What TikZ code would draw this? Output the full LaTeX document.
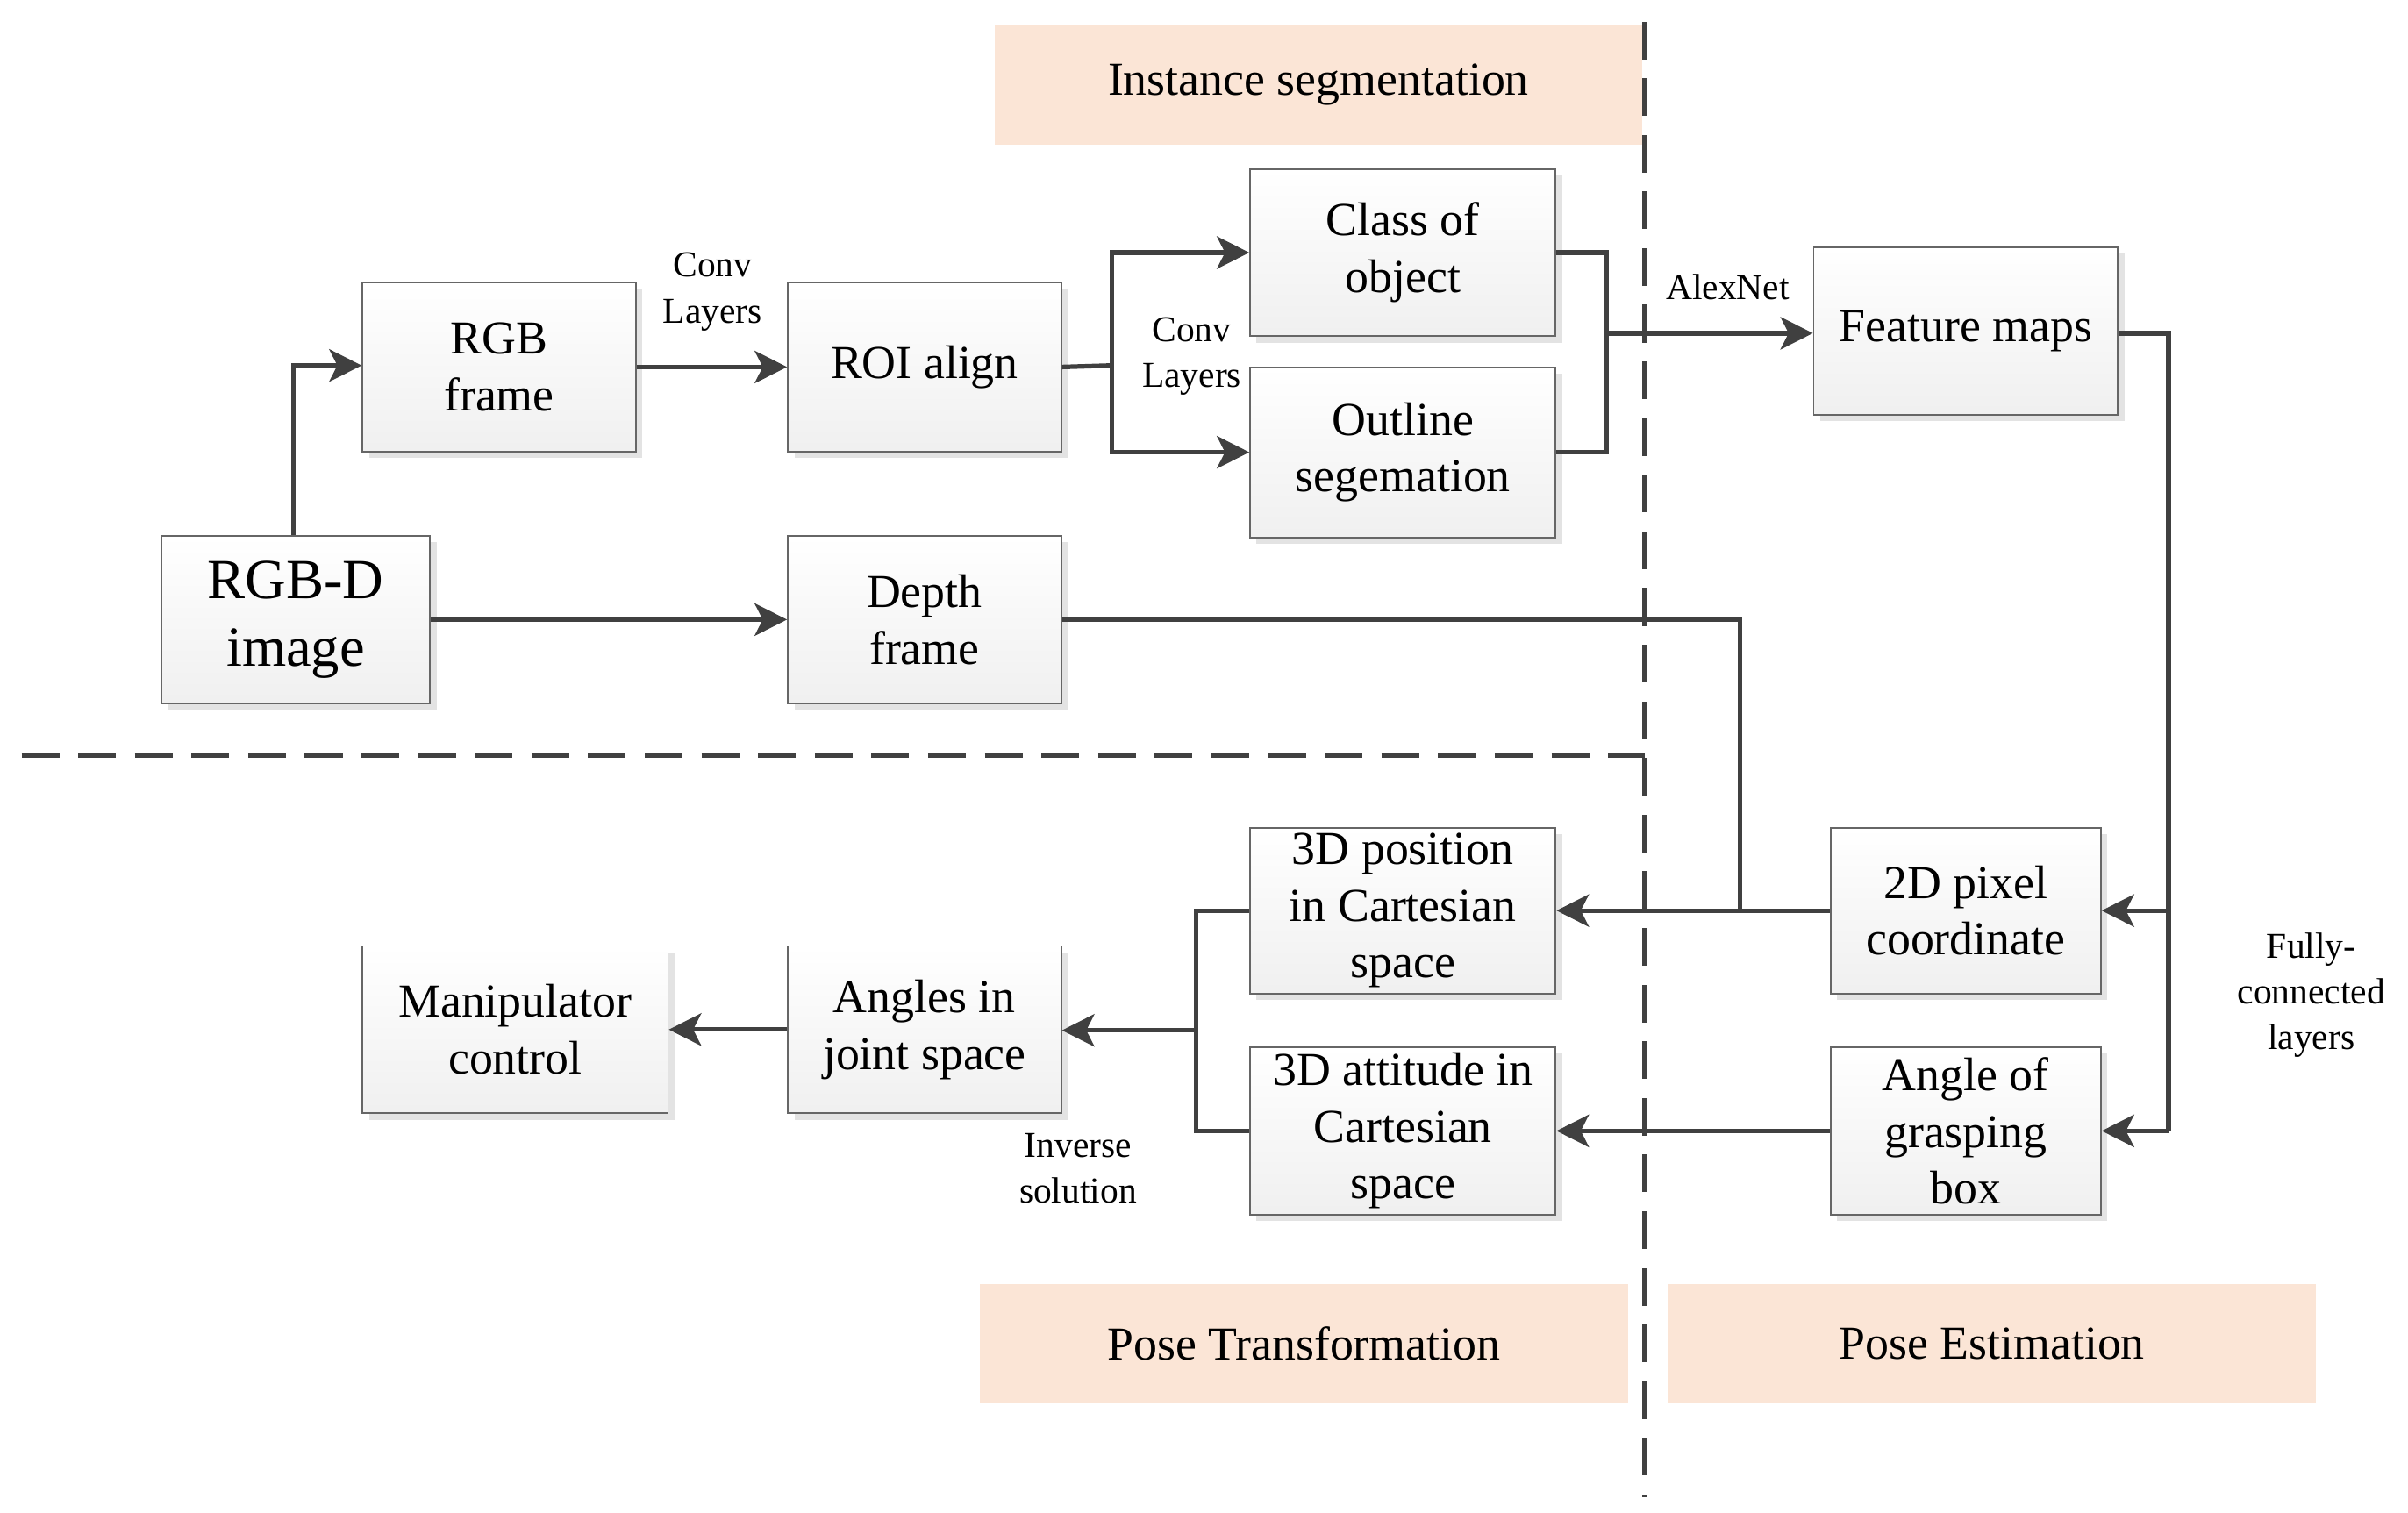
\documentclass[tikz,border=0pt]{standalone}
\usepackage{fontspec}
\setmainfont{Liberation Serif}
\usetikzlibrary{arrows.meta,shadows}
\definecolor{ln}{HTML}{404040}
\definecolor{peach}{HTML}{FBE5D6}
\begin{document}
\begin{tikzpicture}[x=0.02cm,y=-0.02cm,
  box/.style={draw=gray!80!black,line width=0.6pt,top color=white,bottom color=gray!12,
    drop shadow={shadow xshift=2.4pt,shadow yshift=-2.4pt,fill=gray!22,opacity=1},
    align=center,font=\fontsize{17.5}{21}\selectfont,inner sep=2pt},
  tag/.style={fill=peach,minimum width=8.44cm,minimum height=1.56cm,font=\fontsize{17.5}{21}\selectfont},
  lbl/.style={align=center,font=\fontsize{13.5}{17}\selectfont},
  con/.style={draw=ln,line width=1.7pt},
  arr/.style={con,-{Stealth[length=12pt,width=12pt,inset=3pt]}},
  sepline/.style={draw=ln,line width=1.7pt,dash pattern=on 14pt off 7pt}]
\useasboundingbox (0,0) rectangle (1568,985);
% tags
\node[tag] (tis) at (858.5,55) {Instance segmentation};
\node[tag] (tpt) at (849,875) {Pose Transformation};
\node[tag] (tpe) at (1297,875) {Pose Estimation};
% boxes
\node[box,minimum width=3.5cm,minimum height=2.18cm,font=\fontsize{21}{25}\selectfont] (rgbd) at (192.5,403.5) {RGB-D\\image};
\node[box,minimum width=3.56cm,minimum height=2.2cm] (rgb) at (325,239) {RGB\\frame};
\node[box,minimum width=3.56cm,minimum height=2.2cm] (roi) at (602,239) {ROI align};
\node[box,minimum width=3.56cm,minimum height=2.18cm] (dep) at (602,403.5) {Depth\\frame};
\node[box,minimum width=3.98cm,minimum height=2.18cm] (cls) at (913.5,164.5) {Class of\\object};
\node[box,minimum width=3.98cm,minimum height=2.22cm] (out) at (913.5,294.5) {Outline\\segemation};
\node[box,minimum width=3.96cm,minimum height=2.18cm] (fm) at (1280,215.5) {Feature maps};
\node[box,minimum width=3.52cm,minimum height=2.16cm] (pix) at (1280,593) {2D pixel\\coordinate};
\node[box,minimum width=3.52cm,minimum height=2.18cm] (ang) at (1280,736.5) {Angle of\\grasping\\box};
\node[box,minimum width=3.98cm,minimum height=2.16cm] (pos) at (913.5,593) {3D position\\in Cartesian\\space};
\node[box,minimum width=3.98cm,minimum height=2.18cm] (att) at (913.5,736.5) {3D attitude in\\Cartesian\\space};
\node[box,minimum width=3.56cm,minimum height=2.18cm] (jnt) at (602,670.5) {Angles in\\joint space};
\node[box,minimum width=3.98cm,minimum height=2.18cm] (man) at (335.5,670.5) {Manipulator\\control};
% dashed separators
\coordinate (vt) at (1071,14); \coordinate (vb) at (1071,975);
\coordinate (hl) at (14,492); \coordinate (hr) at (1071,492);
\draw[sepline] (vt) -- (vb);
\draw[sepline] (hl) -- (hr);
% coordinates
\coordinate (a1) at (191,238);
\coordinate (s1) at (724,238);
\coordinate (j1) at (1046,217);
\coordinate (f1) at (1412,217);
\coordinate (d1) at (1133,593);
\coordinate (p1) at (779,671);
% connectors
\draw[arr] (rgbd.north -| a1) -- (a1) -- (rgb.west |- a1);
\draw[arr] (rgbd.east |- dep.west) -- (dep.west);
\draw[arr] (rgb.east) -- (roi.west);
\draw[con] (roi.east) -- (s1);
\draw[arr] (s1) |- (cls.west);
\draw[arr] (s1) |- (out.west);
\draw[con] (cls.east) -| (j1);
\draw[con] (out.east) -| (j1);
\draw[arr] (j1) -- (fm.west |- j1);
\draw[con] (fm.east |- f1) -- (f1) -- (f1 |- ang.east);
\draw[arr] (f1 |- pix.east) -- (pix.east);
\draw[arr] (f1 |- ang.east) -- (ang.east);
\draw[con] (dep.east) -| (d1);
\draw[arr] (pix.west) -- (pos.east);
\draw[arr] (ang.west) -- (att.east);
\draw[con] (pos.west) -| (p1);
\draw[con] (att.west) -| (p1);
\draw[arr] (p1) -- (jnt.east |- p1);
\draw[arr] (jnt.west) -- (man.east);
% labels
\node[lbl] (l1) at (464,190) {Conv\\Layers};
\node[lbl] (l2) at (776,232) {Conv\\Layers};
\node[lbl] (l3) at (1125,187) {AlexNet};
\node[lbl] (l4) at (1505,648) {Fully-\\connected\\layers};
\node[lbl] (l5) at (702,761) {Inverse\\solution};
\end{tikzpicture}
\end{document}
